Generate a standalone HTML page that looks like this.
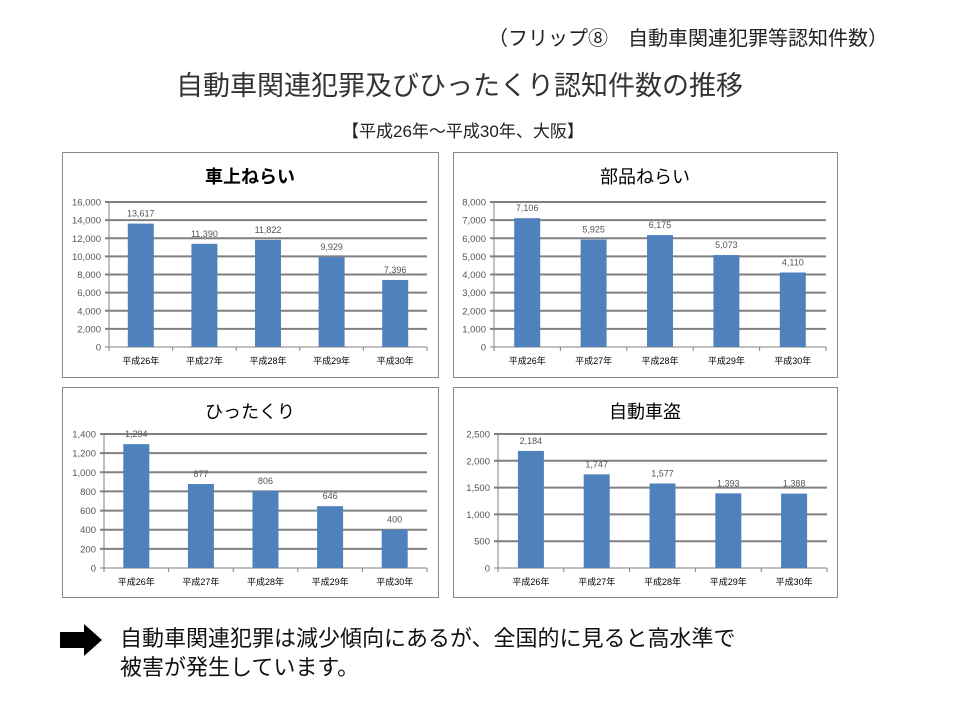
<!DOCTYPE html>
<html><head><meta charset="utf-8"><style>
body{margin:0;width:960px;height:720px;background:#fff;font-family:"Liberation Sans","Noto Sans CJK JP",sans-serif;position:relative;overflow:hidden}
.t{position:absolute;white-space:nowrap;color:#222}
</style></head><body>
<div class="t" style="left:488px;top:22px;font-size:20px">（フリップ⑧　自動車関連犯罪等認知件数）</div>
<div class="t" style="left:176px;top:64px;font-size:27px;color:#333">自動車関連犯罪及びひったくり認知件数の推移</div>
<div class="t" style="left:342px;top:117px;font-size:17px">【平成26年～平成30年、大阪】</div>
<svg id="svg" width="960" height="720" style="position:absolute;left:0;top:0"></svg>
<svg width="50" height="36" style="position:absolute;left:58px;top:622px"><polygon points="2,10 26,10 26,2 44,18 26,34 26,26 2,26" fill="#000"/></svg>
<div class="t" style="left:120px;top:624px;font-size:22px;line-height:29px;color:#111">自動車関連犯罪は減少傾向にあるが、全国的に見ると高水準で<br>被害が発生しています。</div>
<script>
const categories=["平成26年","平成27年","平成28年","平成29年","平成30年"];
const titles=["車上ねらい","部品ねらい","ひったくり","自動車盗"];
const s1=[13617,11390,11822,9929,7396];
const s2=[7106,5925,6175,5073,4110];
const s3=[1294,877,806,646,400];
const s4=[2184,1747,1577,1393,1388];
const maxes=[16000,8000,1400,2500];
const steps=[2000,1000,200,500];
const series=[s1,s2,s3,s4];
const layout=[
 {bx:62,by:152,bw:376,bh:225,x0:109,x1:427,y0:202,y1:347,bold:true},
 {bx:453,by:152,bw:384,bh:225,x0:494,x1:826,y0:202,y1:347},
 {bx:62,by:387,bw:376,bh:210,x0:104,x1:427,y0:434,y1:568},
 {bx:453,by:387,bw:384,bh:210,x0:498,x1:827,y0:434,y1:568}];
const NS="http://www.w3.org/2000/svg",svg=document.getElementById('svg');
function mk(tag,a,p,txt){const e=document.createElementNS(NS,tag);for(const k in a)e.setAttribute(k,a[k]);if(txt!=null)e.textContent=txt;(p||svg).appendChild(e);return e;}
const fmt=v=>v.toLocaleString('en-US');
series.forEach((data,i)=>{
 const L=layout[i];
 const g=mk('g',{});
 
 
 const box=mk('rect',{x:L.bx+.5,y:L.by+.5,width:L.bw,height:L.bh,fill:'#fff',stroke:'#888'},g);
 
 
 const tt=mk('text',{x:L.bx+L.bw/2,y:L.by+31,'text-anchor':'middle','font-size':18,'font-weight':L.bold?'bold':'normal',fill:'#000'},g,titles[i]);
 
 
 const y=v=>L.y1-(v/maxes[i])*(L.y1-L.y0);
 for(let v=0;v<=maxes[i];v+=steps[i]){
  const gl=mk('line',{x1:L.x0-4,x2:L.x1,y1:y(v),y2:y(v),stroke:'#808080','stroke-width':v===0?1:2},g);
  
  
  const tl=mk('text',{x:L.x0-8,y:y(v)+3.5,'text-anchor':'end','font-size':9.5,fill:'#555'},g,fmt(v));
  
  
 }
 mk('line',{x1:L.x0,x2:L.x0,y1:L.y0,y2:L.y1+4,stroke:'#808080'},g);
 const cw=(L.x1-L.x0)/categories.length;
 categories.forEach((c,j)=>{
  const cx=L.x0+cw*(j+.5),v=data[j];
  const b=mk('rect',{x:cx-13,y:y(v),width:26,height:L.y1-y(v),fill:'#4f81bd'},g);
  
  
  const vl=mk('text',{x:cx,y:y(v)-7,'text-anchor':'middle','font-size':9,fill:'#555'},g,fmt(v));
  
  
  const xl=mk('text',{x:cx,y:L.y1+17,'text-anchor':'middle','font-size':9,fill:'#000'},g,c);
  
  
  mk('line',{x1:L.x0+cw*(j+1),x2:L.x0+cw*(j+1),y1:L.y1,y2:L.y1+4,stroke:'#808080'},g);
 });
});
</script>
</body></html>
